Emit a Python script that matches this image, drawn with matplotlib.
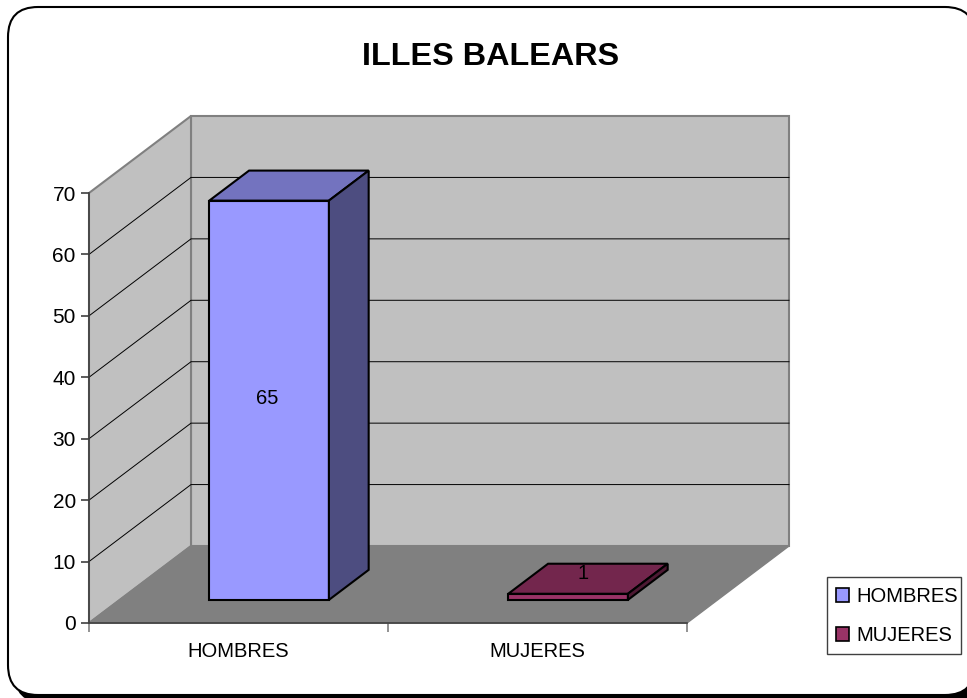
import matplotlib
matplotlib.use('Agg')
import matplotlib.pyplot as plt
from matplotlib.patches import FancyBboxPatch, Polygon, Rectangle

plt.rcParams['font.family'] = ['Liberation Sans', 'DejaVu Sans']

title = 'ILLES BALEARS'
categories = ['HOMBRES', 'MUJERES']
values = [65, 1]
front_colors = ['#9999FF', '#993366']
top_colors = ['#7373BF', '#73264D']
side_colors = ['#4D4D80', '#4D1933']
y_ticks = [0, 10, 20, 30, 40, 50, 60, 70]

W, H = 967, 698
DEPTH_X = 102 / 299     # wall offset in category widths
DEPTH_Y = 77 * 70 / 430  # wall offset in value units
BAR_WIDTH = 0.4
BAR_D0, BAR_D1 = 0.30, 0.69
# nudges for the value labels, in data units
LABEL_SHIFT = [(-0.0735, -2.2), (-0.017, 1.3)]


def proj(x, y, d):
    # oblique projection: d=0 front of floor, d=1 back wall
    return (x + d * DEPTH_X, y + d * DEPTH_Y)


fig = plt.figure(figsize=(W / 100, H / 100), dpi=100)

# page frame with a black shadow showing at the bottom
bg = fig.add_axes([0, 0, 1, 1])
bg.set_xlim(0, W)
bg.set_ylim(H, 0)
bg.axis('off')
bg.add_patch(FancyBboxPatch((36, 37), 923, 644, boxstyle='round,pad=22,rounding_size=30',
                            fc='black', ec='none'))
bg.add_patch(FancyBboxPatch((30, 29), 923, 644, boxstyle='round,pad=22,rounding_size=30',
                            fc='white', ec='black', lw=1.5))
bg.text(490.5, 57, title, ha='center', va='center', fontsize=23.3, fontweight='bold', color='black')
# legend frame is drawn by hand, the legend's own box comes out too wide
bg.add_patch(Rectangle((827, 577), 134, 77, fc='white', ec='#404040', lw=1))

ax = fig.add_axes([89 / W, 1 - 623 / H, 598 / W, 430 / H])
ax.set_xlim(0, 2)
ax.set_ylim(0, 70)
ax.patch.set_alpha(0)
for s in ['top', 'right']:
    ax.spines[s].set_visible(False)
ax.spines['left'].set_color('#404040')
ax.spines['left'].set_linewidth(1.2)
ax.spines['bottom'].set_color('#404040')
ax.spines['bottom'].set_linewidth(1.2)

WALL = '#C0C0C0'
FLOOR = '#808080'
EDGE = '#808080'
ymax = y_ticks[-1]

# back wall, side wall, floor
ax.add_patch(Polygon([proj(0, 0, 1), proj(2, 0, 1), proj(2, ymax, 1), proj(0, ymax, 1)],
                     fc=WALL, ec=EDGE, lw=1.5, clip_on=False, zorder=1))
ax.add_patch(Polygon([proj(0, 0, 0), proj(0, 0, 1), proj(0, ymax, 1), proj(0, ymax, 0)],
                     fc=WALL, ec=EDGE, lw=1.5, clip_on=False, zorder=1))
ax.add_patch(Polygon([proj(0, 0, 0), proj(2, 0, 0), proj(2, 0, 1), proj(0, 0, 1)],
                     fc=FLOOR, ec=EDGE, lw=1, clip_on=False, zorder=1.5))

# gridlines on the two walls
for v in y_ticks[1:-1]:
    p0, p1, p2 = proj(0, v, 0), proj(0, v, 1), proj(2, v, 1)
    ax.plot([p0[0], p1[0], p2[0]], [p0[1], p1[1], p2[1]], color='black', lw=0.7,
            clip_on=False, zorder=2)

# bars
for i, (val, fc, tc, sc) in enumerate(zip(values, front_colors, top_colors, side_colors)):
    x0 = i + (1 - BAR_WIDTH) / 2
    x1 = x0 + BAR_WIDTH
    style = dict(ec='black', lw=1.5, clip_on=False, zorder=3, joinstyle='miter')
    ax.add_patch(Polygon([proj(x0, 0, BAR_D0), proj(x1, 0, BAR_D0), proj(x1, val, BAR_D0), proj(x0, val, BAR_D0)],
                         fc=fc, **style))
    ax.add_patch(Polygon([proj(x0, val, BAR_D0), proj(x1, val, BAR_D0), proj(x1, val, BAR_D1), proj(x0, val, BAR_D1)],
                         fc=tc, **style))
    ax.add_patch(Polygon([proj(x1, 0, BAR_D0), proj(x1, 0, BAR_D1), proj(x1, val, BAR_D1), proj(x1, val, BAR_D0)],
                         fc=sc, **style))
    lx, ly = proj(i + 0.5, val / 2, (BAR_D0 + BAR_D1) / 2)
    ax.text(lx + LABEL_SHIFT[i][0], ly + LABEL_SHIFT[i][1], str(val), ha='center', va='center',
            fontsize=14.5, color='black', zorder=4)

ax.set_yticks(y_ticks)
ax.tick_params(axis='y', labelsize=15, length=6, width=1.2, color='#404040', pad=3.5)
ax.set_xticks([0, 1, 2])
ax.set_xticklabels([])
ax.set_xticks([0.5, 1.5], minor=True)
ax.set_xticklabels(categories, minor=True, fontsize=14.5)
ax.tick_params(axis='x', which='major', length=6.5, width=1.2, color='#808080')
ax.tick_params(axis='x', which='minor', length=0, pad=13.5)

# legend entries
handles = [Rectangle((0, 0), 1, 1, fc=c, ec='black', lw=1.2) for c in front_colors]
leg = fig.legend(handles, categories, loc='upper left', bbox_to_anchor=(828 / W, 1 - 579 / H),
                 fontsize=14.5, frameon=False,
                 handlelength=0.65, handleheight=0.65, handletextpad=0.35, labelspacing=1.0,
                 borderpad=0.4, borderaxespad=0)

fig.savefig('out.png', dpi=100)
